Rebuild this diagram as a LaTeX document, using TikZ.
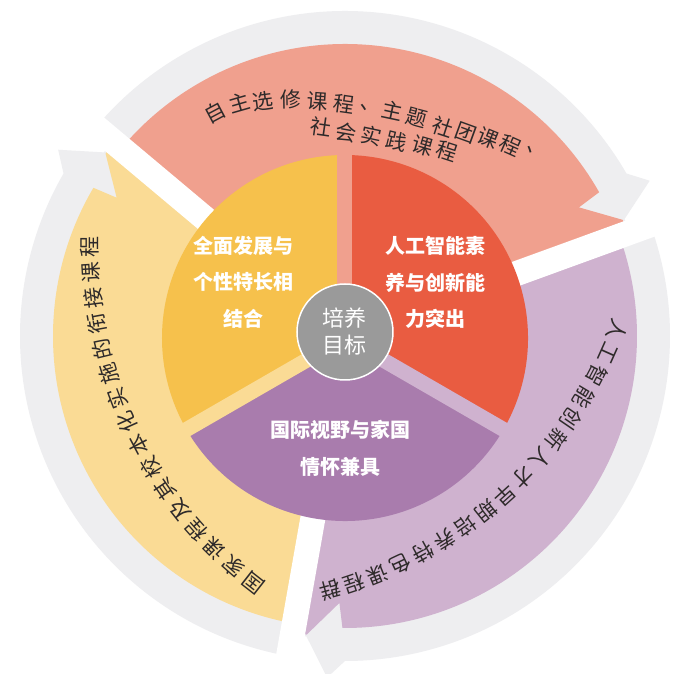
\documentclass[tikz,border=0pt]{standalone}
\usepackage{fontspec}
\newfontfamily\cjk{Noto Sans CJK SC}
\usetikzlibrary{calc}
\definecolor{salmonA}{HTML}{F0A08E}
\definecolor{yellowA}{HTML}{FADB95}
\definecolor{purpleA}{HTML}{CFB2CF}
\definecolor{ringgray}{HTML}{EEEEF0}
\definecolor{pieY}{HTML}{F6C14C}
\definecolor{pieR}{HTML}{E95C41}
\definecolor{pieP}{HTML}{A97CAD}
\definecolor{hubgray}{HTML}{9A9A9A}
\definecolor{txtc}{HTML}{2E2A2A}
\tikzset{
  outtxt/.style={font=\cjk\fontsize{21}{21}\selectfont, text=txtc, inner sep=0pt},
  intxt/.style={font=\cjk\bfseries\fontsize{20}{36.5}\selectfont, text=white, align=center, inner sep=0pt},
  gapband/.style={line width=15pt},
}
% #1 start (tail) angle, #2 end (head) angle
\newcommand\grayarrow[2]{%
  \fill[ringgray] (0,0) -- (#1:325) arc[start angle=#1, end angle={#2+10}, radius=325]
    -- ({#2+7}:342) -- ({#2+2.7}:303) -- (#2:303) -- cycle;}
\newcommand\colarrow[3]{%
  \fill[#1] (0,0) -- (#2:292) arc[start angle=#2, end angle={#3+9.5}, radius=292]
    -- ({#3+8.8}:267) -- ({#3+2.7}:301) -- (#3:301) -- cycle;}
\begin{document}
\begin{tikzpicture}[x=1pt,y=1pt]
\useasboundingbox (-345,-338) rectangle (349,336);
\fill[white] (-345,-338) rectangle (349,336);
% outer gray arrows
\grayarrow{140}{20}
\grayarrow{260}{140}
\grayarrow{20}{-100}
% coloured arrows
\colarrow{salmonA}{140}{20}
\colarrow{yellowA}{260}{140}
\colarrow{purpleA}{20}{-100}
% white gaps
\foreach \g in {20,140,260} \draw[white, line width=25pt] (\g:150) -- (\g:372);
% inner pie
\fill[pieY] (0,-2) -- ++(90:183) arc[start angle=90, end angle=210, radius=183] -- cycle;
\fill[pieR] (0,-2) -- ++(-30:183) arc[start angle=-30, end angle=90, radius=183] -- cycle;
\fill[pieP] (0,-2) -- ++(210:183) arc[start angle=210, end angle=330, radius=183] -- cycle;
\draw[salmonA, gapband] (0,-2) -- ++(90:192);
\draw[yellowA, gapband] (0,-2) -- ++(210:192);
\draw[purpleA, gapband] (0,-2) -- ++(330:192);
% hub
\node[circle, fill=hubgray, draw=white, line width=1.5pt, minimum size=96pt, inner sep=0pt,
      align=center, font=\cjk\fontsize{22}{27}\selectfont, text=white] (hub) at (0,4) {培养\\目标};
% inner texts
\node[intxt] (ty) at (-101,54) {全面发展与\\个性特长相\\结合};
\node[intxt] (tr) at (91,53.5) {人工智能素\\养与创新能\\力突出};
\node[intxt] (tp) at (-4,-112.5) {国际视野与家国\\情怀兼具};
% top text
\foreach \ch/\x/\y/\r [count=\i] in {自/-130/223/28, 主/-106/233/16, 选/-82/235/7, 修/-54/237/1,
  课/-27/235/-4, 程/-1/232/-8, 、/25/227/-10, 主/47/225/-12, 题/72/218/-15, 社/98/209/-18,
  团/121/203/-20, 课/143/198/-22, 程/165/190/-24, 、/191/183/-26}
  \node[outtxt, rotate=\r] (a\i) at (\x,\y) {\ch};
\foreach \ch/\x/\y/\r [count=\i] in {社/-24/209/-8, 会/1/204/-10, 实/26/200/-12, 践/52/195/-14,
  课/78/190/-16, 程/102/185/-18}
  \node[outtxt, rotate=\r] (b\i) at (\x,\y) {\ch};
% left text
\foreach \ch [count=\i from 0] in {国,家,课,程,及,其,校,本,化,实,施,的,衔,接,课,程} {
  \pgfmathsetmacro\ang{231.97 - \i*3.473}
  \node[outtxt, rotate=\ang-90] (l\i) at ($(170,88)+(\ang:425)$) {\ch};
}
% right text
\foreach \ch [count=\i from 0] in {人,工,智,能,创,新,人,才,早,期,培,养,特,色,课,程,群} {
  \pgfmathsetmacro\ang{-20.78 - \i*3.382}
  \node[outtxt, rotate=\ang-90] (r\i) at ($(-126,157)+(\ang:426)$) {\ch};
}
\end{tikzpicture}
\end{document}
